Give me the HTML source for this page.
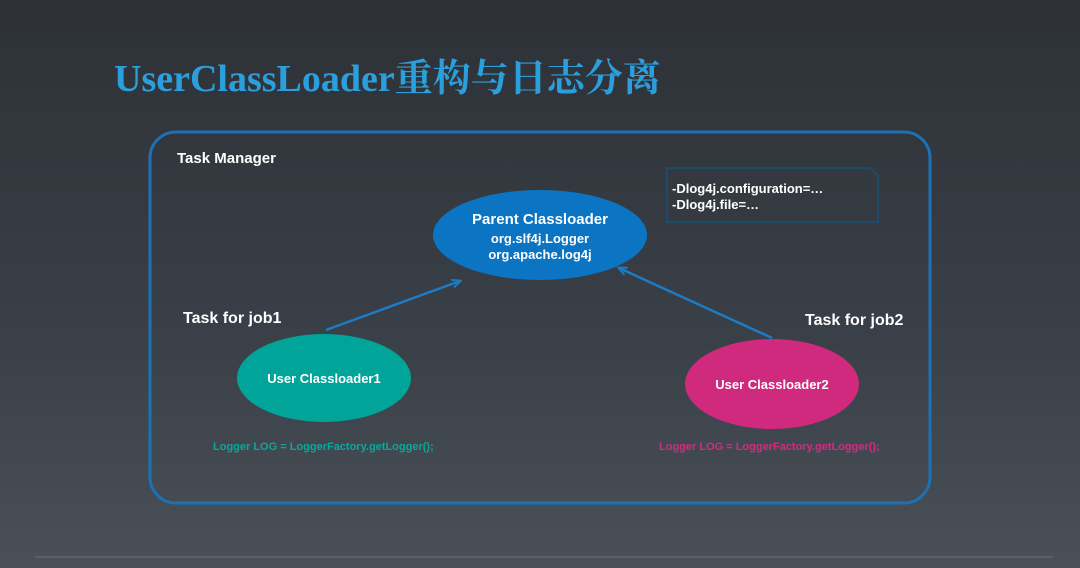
<!DOCTYPE html>
<html><head><meta charset="utf-8"><style>
html,body{margin:0;padding:0}
body{width:1080px;height:568px;overflow:hidden;background:linear-gradient(#2d3137,#3a4048 60%,#4a5058);position:relative;font-family:"Liberation Sans",sans-serif}
.t{position:absolute;white-space:nowrap}
</style></head><body>
<div class="t" style="left:114px;top:47px;font:bold 38px 'Liberation Serif','Noto Serif CJK SC',serif;color:#2b9fdc">UserClassLoader重构与日志分离</div>
<svg width="1080" height="568" style="position:absolute;left:0;top:0">
<defs><marker id="a" markerWidth="10" markerHeight="10" refX="8" refY="5" orient="auto" markerUnits="userSpaceOnUse"><path d="M0,1 L9,5 L0,9" fill="none" stroke="#1c7bc4" stroke-width="2"/></marker></defs>
<rect x="150" y="132" width="780" height="371" rx="26" fill="none" stroke="#1c72b4" stroke-width="3"/>
<path d="M667,168 H870 L878,176 V222 H667 Z" fill="none" stroke="#1d4c6a" stroke-width="2"/>
<ellipse cx="540" cy="235" rx="107" ry="45" fill="#0b74c3"/>
<ellipse cx="324" cy="378" rx="87" ry="44" fill="#00a499"/>
<ellipse cx="772" cy="384" rx="87" ry="45" fill="#cf2a7e"/>
<line x1="326" y1="330" x2="460" y2="281" stroke="#1c7bc4" stroke-width="2.5" marker-end="url(#a)"/>
<line x1="772" y1="338" x2="619" y2="268" stroke="#1c7bc4" stroke-width="2.5" marker-end="url(#a)"/>
<line x1="35" y1="557" x2="1053" y2="557" stroke="#6c727a" stroke-width="1"/>
</svg>
<div class="t" style="left:177px;top:150px;font:bold 15px 'Liberation Sans';color:#fff">Task Manager</div>
<div class="t" style="left:672px;top:181px;font:bold 13px/16px 'Liberation Sans';color:#fff">-Dlog4j.configuration=…<br>-Dlog4j.file=…</div>
<div class="t" style="left:433px;top:211px;width:214px;text-align:center;font:bold 15px 'Liberation Sans';color:#fff">Parent Classloader</div>
<div class="t" style="left:433px;top:231px;width:214px;text-align:center;font:bold 13px/16px 'Liberation Sans';color:#fff">org.slf4j.Logger<br>org.apache.log4j</div>
<div class="t" style="left:183px;top:310px;font:bold 16px 'Liberation Sans';color:#fff">Task for job1</div>
<div class="t" style="left:805px;top:312px;font:bold 16px 'Liberation Sans';color:#fff">Task for job2</div>
<div class="t" style="left:237px;top:371px;width:174px;text-align:center;font:bold 13px 'Liberation Sans';color:#fff">User Classloader1</div>
<div class="t" style="left:685px;top:377px;width:174px;text-align:center;font:bold 13px 'Liberation Sans';color:#fff">User Classloader2</div>
<div class="t" style="left:213px;top:441px;font:bold 11px 'Liberation Sans';color:#0aa89a">Logger LOG = LoggerFactory.getLogger();</div>
<div class="t" style="left:659px;top:441px;font:bold 11px 'Liberation Sans';color:#d22c80">Logger LOG = LoggerFactory.getLogger();</div>
</body></html>
